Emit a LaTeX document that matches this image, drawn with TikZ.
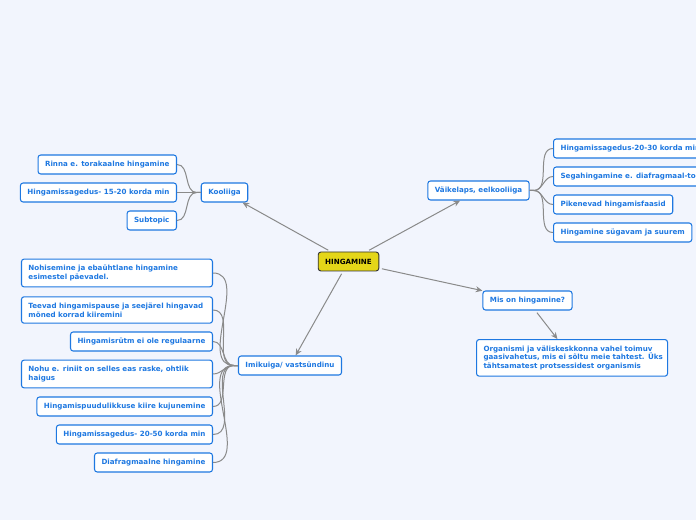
\documentclass[tikz,border=0pt]{standalone}
\usepackage{fontspec}
\setmainfont{DejaVu Sans}
\usetikzlibrary{positioning,arrows.meta}
\definecolor{bg}{RGB}{242,245,253}
\definecolor{topicblue}{RGB}{30,120,225}
\definecolor{linegrey}{RGB}{138,138,138}
\definecolor{rootyellow}{RGB}{228,214,24}

\begin{document}
\begin{tikzpicture}[
  x=0.75pt, y=-0.75pt,
  font=\fontsize{5.35}{6.6}\selectfont\bfseries,
  topic/.style={draw=topicblue, fill=white, text=topicblue, rounded corners=2pt, line width=0.8pt, inner xsep=5.25pt, inner ysep=4.5pt, minimum height=14.25pt},
  long/.style={topic, text width=132.75pt, align=left},
  root/.style={draw=black!80, fill=rootyellow, rounded corners=2pt, line width=0.7pt, inner xsep=5.25pt, minimum height=14.25pt},
  link/.style={draw=linegrey, line width=0.75pt, -{Stealth[length=5pt,width=4.5pt]}, shorten <=2pt},
  twig/.style={draw=linegrey, line width=0.75pt}
]
\useasboundingbox (0,0) rectangle (696,520);
\clip (0,0) rectangle (696,520);
\fill[bg] (0,0) rectangle (696,520);

% centre and main branches
\node[root] (hing) at (348.5,261.5) {HINGAMINE};
\node[topic] (kool) at (224.5,192.5) {Kooliiga};
\node[topic] (imik) at (290,365.5) {Imikuiga/ vastsündinu};
\node[topic] (vaike) at (478.5,190.5) {Väikelaps, eelkooliiga};
\node[topic] (mis) at (527.5,300.5) {Mis on hingamine?};

% Kooliiga
\node[topic, anchor=east] (rinna) at (177,164.5) {Rinna e. torakaalne hingamine};
\node[topic, anchor=east] (sag15) at (177,192.5) {Hingamissagedus- 15-20 korda min};
\node[topic, anchor=east] (subt) at (177,220.5) {Subtopic};

% Imikuiga
\node[long, anchor=east] (nohis) at (213,273) {Nohisemine ja ebaühtlane hingamine\\esimestel päevadel.};
\node[long, anchor=east] (pausid) at (213,310) {Teevad hingamispause ja seejärel hingavad\\mõned korrad kiiremini};
\node[topic, anchor=east] (rytm) at (213,341.5) {Hingamisrütm ei ole regulaarne};
\node[long, anchor=east] (nohu) at (213,374) {Nohu e. riniit on selles eas raske, ohtlik\\haigus};
\node[topic, anchor=east] (puud) at (213,406.5) {Hingamispuudulikkuse kiire kujunemine};
\node[topic, anchor=east] (sag20) at (213,434.5) {Hingamissagedus- 20-50 korda min};
\node[topic, anchor=east] (diaf) at (213,462.5) {Diafragmaalne hingamine};

% Väikelaps
\node[topic, anchor=west] (sag30) at (553,148.5) {Hingamissagedus-20-30 korda min};
\node[topic, anchor=west] (segah) at (553,176.5) {Segahingamine e. diafragmaal-torakaalne};
\node[topic, anchor=west] (faasid) at (553,204.5) {Pikenevad hingamisfaasid};
\node[topic, anchor=west] (sygav) at (553,232.5) {Hingamine sügavam ja suurem};

% Mis on hingamine?
\node[long, anchor=north west] (def) at (476,339) {Organismi ja väliskeskkonna vahel toimuv\\\mbox{gaasivahetus, mis ei sõltu meie tahtest. Üks}\\tähtsamatest protsessidest organismis};

\draw[link] (hing) -- (kool);
\draw[link] (hing) -- (imik);
\draw[link] (hing) -- (vaike);
\draw[link] (hing) -- (mis);
\draw[link] (mis) -- (def);

\foreach \c in {rinna,sag15,subt}
  \draw[twig] (kool.west) -- ++(-4,0) to[out=180,in=0] (\c.east);
\foreach \c in {nohis,pausid,rytm,nohu,puud,sag20,diaf}
  \draw[twig] (imik.west) -- ++(-4,0) to[out=180,in=0] (\c.east);
\foreach \c in {sag30,segah,faasid,sygav}
  \draw[twig] (vaike.east) -- ++(4,0) to[out=0,in=180] (\c.west);
\end{tikzpicture}
\end{document}
